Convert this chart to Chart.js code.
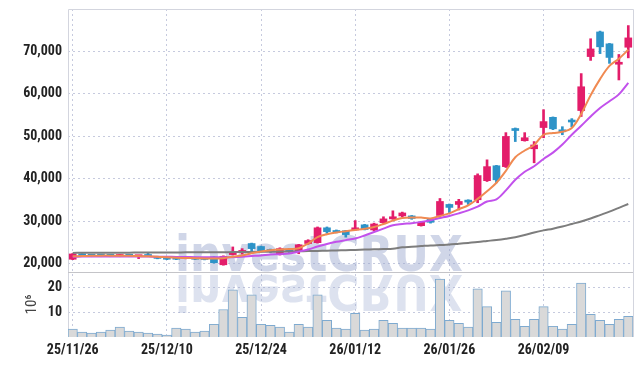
<!DOCTYPE html>
<html>
<head>
<meta charset="utf-8">
<script src="https://cdn.jsdelivr.net/npm/chart.js@4.4.1/dist/chart.umd.min.js"></script>
<style>
  html, body { margin: 0; padding: 0; background: #fff; }
</style>
</head>
<body>
<canvas id="chart" width="642" height="366"></canvas>
<script>
// trading days shown on the chart
const dates = [
  '25/11/26','25/11/27','25/11/28','25/12/01','25/12/02','25/12/03','25/12/04','25/12/05','25/12/08','25/12/09',
  '25/12/10','25/12/11','25/12/12','25/12/15','25/12/16','25/12/17','25/12/18','25/12/19','25/12/22','25/12/23',
  '25/12/24','25/12/26','25/12/29','25/12/30','26/01/02','26/01/05','26/01/06','26/01/07','26/01/08','26/01/09',
  '26/01/12','26/01/13','26/01/14','26/01/15','26/01/16','26/01/19','26/01/20','26/01/21','26/01/22','26/01/23',
  '26/01/26','26/01/27','26/01/28','26/01/29','26/01/30','26/02/02','26/02/03','26/02/04','26/02/05','26/02/06',
  '26/02/09','26/02/10','26/02/11','26/02/12','26/02/13','26/02/19','26/02/20','26/02/23','26/02/24','26/02/25'
];
const shownDates = ['25/11/26','25/12/10','25/12/24','26/01/12','26/01/26','26/02/09'];

const open = [
  21100,22300,22100,21950,21900,21750,22100,21700,21850,21700,
  21500,21450,21300,21500,21400,21650,19800,22200,22700,24800,
  24100,23400,22200,23300,22900,24800,25000,28500,27800,27800,
  28000,29200,28000,29700,30600,31300,31300,29000,30600,31400,
  34000,34000,34750,35100,39600,43100,42900,51600,49000,47100,
  52100,54500,51500,53600,56100,68800,74600,71800,67000,71000
];
const high = [
  22450,22400,22200,22050,22050,22200,22150,21900,22500,21800,
  21600,21550,21800,21600,21500,21700,21900,24000,23600,24900,
  24200,23500,23800,23600,24600,25700,28700,28700,28000,27900,
  30200,29300,29600,31100,32500,32200,31400,30000,30700,35400,
  34100,35200,35100,41200,44500,43200,50900,52000,50900,48800,
  56300,54600,52300,54200,64800,73000,74800,71900,69300,76100
];
const low = [
  21000,21800,21700,21700,21700,21700,21700,21250,21700,21200,
  21000,21000,21200,21000,20950,20200,19700,22100,22300,23000,
  22800,22700,22100,22700,22400,24600,24900,27200,27300,26300,
  27900,28000,27800,29600,30500,31100,30500,28900,29600,31200,
  32100,32700,34000,34400,39400,39100,42700,48800,48900,43800,
  49700,51600,50400,52300,54700,67900,69500,67200,63300,68500
];
const close = [
  22350,21900,21800,21850,21800,22100,21800,21800,21750,21300,
  21100,21100,21700,21100,21050,20300,21800,22700,22900,23600,
  22900,22900,23600,22900,24500,25500,28500,27600,27400,26900,
  28500,28100,29400,30600,31100,32000,30700,29800,29800,34700,
  33300,34700,34550,40800,42900,39800,50000,51400,49700,48000,
  53500,51800,51100,53400,61700,70600,71100,68600,67400,73200
];

// moving averages as drawn
const ma5 = [
  21800,21850,21900,21950,21950,21900,21900,21850,21800,21700,
  21550,21450,21400,21350,21300,21250,21350,21700,22000,22500,
  22900,23200,23400,23500,23700,24800,26300,27000,27400,27700,
  28000,28300,28700,29400,30200,30800,30950,30900,30700,31300,
  31900,32900,33800,35300,37100,39100,41900,45100,46700,48000,
  50400,50800,51100,52000,55300,59700,63500,66600,68300,70400
];
const ma20 = [
  21700,21720,21740,21750,21750,21750,21740,21730,21720,21700,
  21680,21650,21630,21600,21580,21550,21550,21600,21700,21850,
  22000,22200,22300,22450,22900,23400,24100,24700,25200,25600,
  26000,26700,27500,28300,29100,29400,29600,29900,30300,30800,
  31300,31900,32600,33500,34700,35200,37300,39800,41700,43000,
  44700,46200,48100,50400,52500,54700,56700,58300,59900,62600
];
const ma120 = [
  22600,22610,22620,22630,22640,22650,22660,22670,22680,22690,
  22700,22710,22720,22730,22740,22750,22760,22780,22800,22820,
  22850,22880,22910,22940,22980,23020,23070,23120,23180,23240,
  23300,23370,23440,23520,23600,23900,24050,24200,24350,24450,
  24550,24750,24950,25150,25400,25650,25950,26300,26800,27400,
  27900,28300,28800,29400,30000,30700,31500,32300,33200,34100
];

// volume, millions of shares
const volume = [
  3.2,2.0,1.6,2.0,2.8,4.0,2.4,2.0,1.6,1.2,
  0.8,3.6,3.2,2.0,2.4,5.2,11.2,19.2,8.0,17.2,
  5.2,4.8,4.0,2.0,5.2,4.0,17.2,6.8,3.6,3.2,
  9.6,2.8,3.2,6.8,5.6,3.6,3.6,3.6,3.2,23.6,
  6.8,5.6,4.0,19.6,12.4,6.0,18.8,7.2,4.4,7.2,
  12.4,4.4,3.2,5.2,22.0,9.2,6.8,5.2,7.2,8.4
];

const priceTicks = [20000, 30000, 40000, 50000, 60000, 70000];
const volumeTicks = [10, 20];

const UP = '#e31d6a';
const DOWN = '#2d93c8';
const GRID = '#c6cade';
const candleColor = open.map((o, i) => close[i] >= o ? UP : DOWN);

Chart.defaults.font.family = "'Roboto Condensed', Roboto, sans-serif";
Chart.defaults.font.size = 14;
Chart.defaults.font.weight = 'bold';
Chart.defaults.color = '#222';

// y axes: fixed width, no extra padding from the tick labels
function fitLeft(s) {
  s.width = 68;
  s.paddingTop = 0;
  s.paddingBottom = 0;
}

const decor = {
  id: 'decor',
  beforeDatasetsDraw(chart) {
    const {ctx, chartArea} = chart;
    const yBottom = chart.scales.y.bottom;
    ctx.save();
    // watermark and its reflection
    ctx.font = "bold 50px 'DejaVu Sans'";
    ctx.textBaseline = 'alphabetic';
    ctx.fillStyle = 'rgba(150,165,205,0.45)';
    ctx.fillText('investCRUX', 175, 271, 288);
    ctx.translate(0, 2 * 273);
    ctx.scale(1, -1);
    ctx.fillStyle = 'rgba(150,165,205,0.32)';
    ctx.fillText('investCRUX', 175, 271, 288);
    ctx.restore();

    ctx.save();
    ctx.strokeStyle = '#d3d5de';
    ctx.lineWidth = 1;
    ctx.beginPath();
    ctx.moveTo(chartArea.left + 0.5, chartArea.bottom);
    ctx.lineTo(chartArea.left + 0.5, chartArea.top + 0.5);
    ctx.lineTo(chartArea.right + 0.5, chartArea.top + 0.5);
    ctx.lineTo(chartArea.right + 0.5, chartArea.bottom);
    ctx.stroke();
    ctx.strokeStyle = '#c4c4c8';
    ctx.beginPath();
    ctx.moveTo(chartArea.left, Math.round(yBottom) + 0.5);
    ctx.lineTo(chartArea.right, Math.round(yBottom) + 0.5);
    ctx.stroke();
    ctx.restore();
  }
};

new Chart(document.getElementById('chart').getContext('2d'), {
  type: 'bar',
  data: {
    labels: dates,
    datasets: [
      {
        type: 'line', label: 'MA5', data: ma5, yAxisID: 'y',
        borderColor: '#f08a52', borderWidth: 2, pointRadius: 0, tension: 0.35, order: 0
      },
      {
        type: 'line', label: 'MA20', data: ma20, yAxisID: 'y',
        borderColor: '#c251ec', borderWidth: 2, pointRadius: 0, tension: 0.35, order: 0
      },
      {
        type: 'line', label: 'MA120', data: ma120, yAxisID: 'y',
        borderColor: '#7d7d7d', borderWidth: 2, pointRadius: 0, tension: 0.35, order: 0
      },
      {
        label: 'body', data: open.map((o, i) => [o, close[i]]), yAxisID: 'y',
        backgroundColor: candleColor, barThickness: 7, minBarLength: 2,
        grouped: false, borderSkipped: false, order: 1
      },
      {
        label: 'wick', data: low.map((l, i) => [l, high[i]]), yAxisID: 'y',
        backgroundColor: candleColor, barThickness: 2,
        grouped: false, borderSkipped: false, order: 2
      },
      {
        label: 'volume', data: volume, yAxisID: 'yv',
        backgroundColor: '#d9d9d9', borderColor: '#7eaad0',
        borderWidth: {top: 1, left: 1, right: 1, bottom: 0}, borderSkipped: 'bottom',
        barPercentage: 1, categoryPercentage: 1, grouped: false, order: 3
      }
    ]
  },
  options: {
    responsive: false,
    animation: false,
    devicePixelRatio: 1,
    layout: { padding: { top: 9, right: 9, bottom: 0, left: 0 } },
    plugins: { legend: { display: false }, tooltip: { enabled: false } },
    scales: {
      x: {
        type: 'category',
        offset: true,
        afterBuildTicks: s => { s.ticks = s.ticks.filter(t => shownDates.includes(dates[t.value])); },
        afterFit: s => { s.height = 29; },
        ticks: { autoSkip: false, maxRotation: 0, padding: 5 },
        grid: { color: GRID, borderDash: [2, 3], offset: false, drawTicks: false },
        border: { display: false, dash: [2, 3] }
      },
      yv: {
        position: 'left',
        stack: 'panes',
        stackWeight: 65,
        min: 0,
        max: 26.5,
        afterBuildTicks: s => { s.ticks = volumeTicks.map(v => ({value: v})); },
        afterFit: fitLeft,
        ticks: { padding: 6 },
        title: {
          display: true, text: '10⁶', color: '#444',
          font: { size: 15, weight: 'normal' }, padding: { top: 23, bottom: 0 }
        },
        grid: { color: GRID, drawTicks: false },
        border: { display: false, dash: [2, 3] }
      },
      y: {
        position: 'left',
        stack: 'panes',
        stackWeight: 263,
        min: 18100,
        max: 80000,
        afterBuildTicks: s => { s.ticks = priceTicks.map(v => ({value: v})); },
        afterFit: fitLeft,
        ticks: { padding: 6, callback: v => v.toLocaleString('en-US') },
        grid: { color: GRID, drawTicks: false },
        border: { display: false, dash: [2, 3] }
      }
    }
  },
  plugins: [decor]
});
</script>
</body>
</html>
